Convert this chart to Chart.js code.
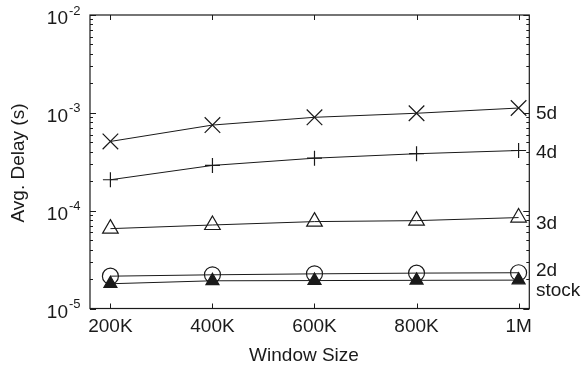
<!DOCTYPE html>
<html>
<head>
<meta charset="utf-8">
<script src="https://cdn.jsdelivr.net/npm/chart.js@4"></script>
<style>
  html, body { margin: 0; padding: 0; background: #fff; }
  #wrap { width: 582px; height: 369px; position: relative; }
</style>
</head>
<body>
<div id="wrap"><canvas id="delay-chart"></canvas></div>
<script>
// window sizes (in K) and their tick labels
const windowSizes = [200, 400, 600, 800, 1000];
const windowLabels = ['200K', '400K', '600K', '800K', '1M'];

// avg. delay in seconds
const delay5d = [5.1e-4, 7.5e-4, 9.0e-4, 9.9e-4, 1.12e-3];
const delay4d = [2.07e-4, 2.9e-4, 3.44e-4, 3.82e-4, 4.12e-4];
const delay3d = [6.55e-5, 7.14e-5, 7.73e-5, 7.91e-5, 8.5e-5];
const delay2d = [2.14e-5, 2.21e-5, 2.26e-5, 2.3e-5, 2.32e-5];
const delayStock = [1.79e-5, 1.92e-5, 1.93e-5, 1.94e-5, 1.95e-5];

const yExponents = [-5, -4, -3, -2];
const seriesNames = ['5d', '4d', '3d', '2d', 'stock'];

const FONT = '"Liberation Sans", Arial, Helvetica, sans-serif';
const INK = '#1a1a1a';

function toPoints(values) {
  return values.map((v, i) => ({ x: windowSizes[i], y: v }));
}

// frame, inward ticks and all the text
const axisPlugin = {
  id: 'axisPlugin',
  afterDatasetsDraw(chart) {
    const ctx = chart.ctx;
    const area = chart.chartArea;
    const xs = chart.scales.x;
    const ys = chart.scales.y;
    ctx.save();
    ctx.strokeStyle = INK;
    ctx.lineWidth = 1.2;
    ctx.strokeRect(area.left, area.top, area.right - area.left, area.bottom - area.top);

    ctx.lineWidth = 1;
    ctx.beginPath();
    // x ticks top and bottom
    windowSizes.forEach(v => {
      const px = Math.round(xs.getPixelForValue(v)) + 0.5;
      ctx.moveTo(px, area.bottom); ctx.lineTo(px, area.bottom - 5);
      ctx.moveTo(px, area.top); ctx.lineTo(px, area.top + 5);
    });
    // y ticks, major and minor, both sides
    for (let e = -5; e <= -2; e++) {
      for (let k = 1; k <= 9; k++) {
        if (e === -2 && k > 1) break;
        const py = Math.round(ys.getPixelForValue(k * Math.pow(10, e))) + 0.5;
        const len = k === 1 ? 6 : 3;
        ctx.moveTo(area.left, py); ctx.lineTo(area.left + len, py);
        ctx.moveTo(area.right, py); ctx.lineTo(area.right - len, py);
      }
    }
    ctx.stroke();

    ctx.fillStyle = INK;
    ctx.textBaseline = 'middle';

    // y tick labels 10^e
    yExponents.forEach(e => {
      const py = ys.getPixelForValue(Math.pow(10, e));
      ctx.font = '19px ' + FONT;
      ctx.textAlign = 'right';
      ctx.fillText('10', 68, py + 4);
      ctx.font = '13px ' + FONT;
      ctx.textAlign = 'left';
      ctx.fillText('-' + Math.abs(e), 69, py - 4);
    });

    // x tick labels
    ctx.font = '19px ' + FONT;
    ctx.textAlign = 'center';
    windowSizes.forEach((v, i) => {
      ctx.fillText(windowLabels[i], xs.getPixelForValue(v), 327);
    });

    // axis titles
    ctx.fillText('Window Size', 304, 356);
    ctx.save();
    ctx.translate(19, 163);
    ctx.rotate(-Math.PI / 2);
    ctx.fillText('Avg. Delay (s)', 0, 0);
    ctx.restore();

    // series names on the right
    const nameShift = [6, 2, 6.5, -1.5, 11];
    ctx.textAlign = 'left';
    chart.data.datasets.forEach((ds, i) => {
      const last = ds.data[ds.data.length - 1].y;
      ctx.fillText(seriesNames[i], 536, ys.getPixelForValue(last) + nameShift[i]);
    });
    ctx.restore();
  }
};

function series(label, values, style, radius, fill) {
  return {
    label: label,
    data: toPoints(values),
    borderColor: INK,
    borderWidth: 1,
    pointStyle: style,
    pointRadius: radius,
    pointHoverRadius: radius,
    pointBorderColor: INK,
    pointBorderWidth: 1.2,
    pointBackgroundColor: fill ? INK : 'rgba(0,0,0,0)',
    fill: false,
    tension: 0
  };
}

const ctx = document.getElementById('delay-chart').getContext('2d');
new Chart(ctx, {
  type: 'line',
  data: {
    datasets: [
      series('5d', delay5d, 'crossRot', 11, false),
      series('4d', delay4d, 'cross', 7.5, false),
      series('3d', delay3d, 'triangle', 9, false),
      series('2d', delay2d, 'circle', 8, false),
      series('stock', delayStock, 'triangle', 7.5, true)
    ]
  },
  options: {
    responsive: true,
    maintainAspectRatio: false,
    animation: false,
    layout: { padding: { left: 90, top: 15, right: 52.7, bottom: 60.5 } },
    plugins: { legend: { display: false }, tooltip: { enabled: false } },
    scales: {
      x: { type: 'linear', min: 160, max: 1021, display: false },
      y: { type: 'logarithmic', min: 1e-5, max: 1e-2, display: false }
    }
  },
  plugins: [axisPlugin]
});
</script>
</body>
</html>
